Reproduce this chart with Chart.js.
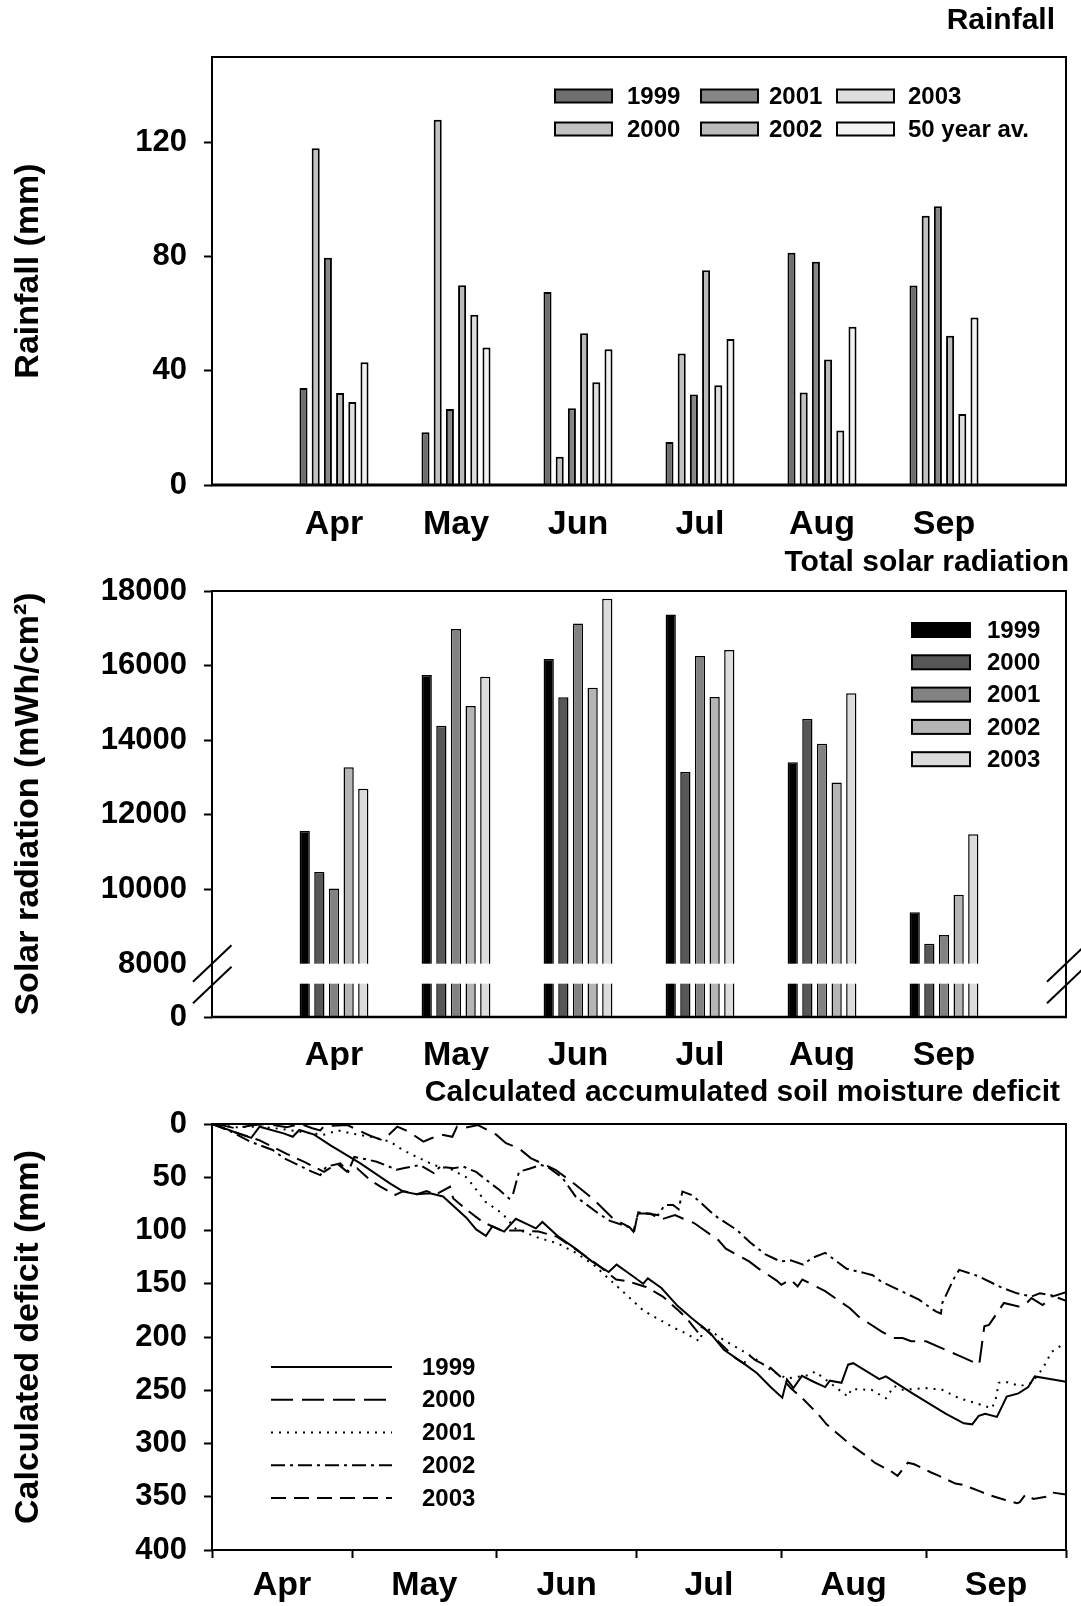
<!DOCTYPE html>
<html>
<head>
<meta charset="utf-8">
<title>Rainfall, solar radiation and soil moisture deficit</title>
<script src="https://cdn.jsdelivr.net/npm/chart.js@4.4.1/dist/chart.umd.min.js"></script>
<style>
  body { margin: 0; background: #fff; }
  #wrap { position: relative; width: 1081px; height: 1606px; }
  canvas { position: absolute; left: 0; }
</style>
</head>
<body>
<div id="wrap">
  <canvas id="rain" width="1081" height="545" style="top:0"></canvas>
  <canvas id="solar" width="1081" height="525" style="top:545px"></canvas>
  <canvas id="deficit" width="1081" height="536" style="top:1070px"></canvas>
</div>
<script>
// ---- data ----
const months    = ['Apr', 'May', 'Jun', 'Jul', 'Aug', 'Sep'];
const monthDays = [30, 31, 30, 31, 31, 30];

// Rainfall (mm), one value per month
const rainLabels = ['1999', '2000', '2001', '2002', '2003', '50 year av.'];
const rain1999 = [34, 18.5, 67.6, 15.1, 81.4, 69.9];
const rain2000 = [118, 128, 9.9, 46.1, 32.4, 94.4];
const rain2001 = [79.6, 26.6, 26.9, 31.7, 78.2, 97.7];
const rain2002 = [32.2, 70, 53.2, 75.3, 44, 52.3];
const rain2003 = [29.1, 59.7, 36, 35, 19.1, 24.9];
const rainAvg  = [43, 48.2, 47.6, 51.2, 55.5, 58.7];
const rainTicks = [0, 40, 80, 120];

// Total solar radiation (mWh/cm2), one value per month
const solarLabels = ['1999', '2000', '2001', '2002', '2003'];
const solar1999 = [11570, 15750, 16180, 17370, 13410, 9390];
const solar2000 = [10470, 14390, 15150, 13150, 14570, 8550];
const solar2001 = [10030, 16980, 17130, 16260, 13910, 8780];
const solar2002 = [13280, 14920, 15410, 15160, 12870, 9860];
const solar2003 = [12700, 15700, 17790, 16420, 15260, 11480];
const solarTicks = [8000, 10000, 12000, 14000, 16000, 18000];

// Calculated accumulated soil moisture deficit: [day from 1 Apr, mm]
const deficitLabels = ['1999', '2000', '2001', '2002', '2003'];
const deficit1999 = [[0,0],[8.4,13],[10.2,2.5],[15.5,9],[17.3,12],[18.7,5.6],[21.9,10],[25.4,20],[31.8,37],[38.2,56],[41,63.5],[43.9,66],[46.7,65],[49.5,68],[54.5,88],[56.6,99],[58.7,105],[60.1,96],[62.6,101],[65.1,89],[69.4,98],[70.8,92],[74.3,106],[77.9,117],[81.4,129],[85,139],[86.7,132],[89.9,142],[92.4,150],[93.4,145],[96.3,154],[99.8,171],[102.7,182],[106.9,197],[109.7,212],[114,225],[116.8,234],[119.7,247],[122.2,257],[123.2,240],[124.6,248],[126.4,236.5],[128.9,242],[131.4,247],[132.4,241],[134.9,243],[136.3,226],[137.4,224.6],[140.2,232],[143,239.6],[144.4,237],[150.1,253],[157.2,272],[161.1,281],[162.9,282],[164.3,274],[165.7,272],[168.2,275],[170.3,256],[172.8,253],[174.9,247],[176.3,237],[180.2,240],[183,242]];
const deficit2000 = [[0,0],[3,2],[5,4],[9,1],[12,0],[16,3],[19,0],[21.5,4],[23.2,6],[24,2],[29,1],[33.9,11],[36.4,15],[37.9,10],[39.7,2.5],[42.1,7],[45.3,16.6],[47,13.4],[49.2,10],[51.5,12],[52.5,2.5],[53.8,4],[57,1],[60.9,10],[63,18],[65.8,23],[68.3,32],[73.6,43],[77.9,57],[81.8,71],[86,89],[89.5,97],[90.3,101],[91.3,84],[94,84],[96,90],[99.2,85.5],[101,89],[103.3,93],[108.5,109],[110.1,117],[115.1,129],[117.2,136],[121,147],[122,151],[124,146],[125.5,152.6],[126.5,146],[131.4,157],[136.7,173],[138.6,181],[143.5,195],[146,201],[148,201],[149.8,204],[153,204],[158.2,214],[160.3,218],[164.4,226],[165.5,190],[166.5,188.6],[169.7,168],[172.8,171.4],[174.2,169.8],[175.6,163.5],[178,170],[180,162],[183,158]];
const deficit2001 = [[0,0],[5,3],[10.7,2.5],[16.4,5.6],[20,8],[24,10],[27,6],[30,9],[34,12],[38.2,16.6],[40.7,24],[43.9,31],[47.8,39],[51,42],[54.5,50],[56,58],[58.6,73],[62.2,84],[65,98],[70,107],[74,112],[78,121],[82,133],[85.7,148],[89.2,162],[92.4,175],[98.8,191],[101.3,196],[104.5,204],[105.5,190],[109.7,203],[113.3,212],[117,222],[120,232],[123.2,239],[128.2,235.6],[129.2,232.4],[132.4,243],[136.3,256],[137,249],[141.3,249.6],[144.4,257.5],[146.2,246],[148,249.6],[153,248],[156.5,249.6],[160.1,257.5],[163.6,262],[167.1,267],[167.9,259],[168.6,243],[170,242],[173.2,246],[175.7,243],[178.1,229],[179.9,214],[183,205]];
const deficit2002 = [[0,0],[4,7],[8.2,16.6],[13,24.4],[15.4,32],[21.4,44.7],[23.2,48],[24.5,40],[27.5,37],[29.2,44.7],[30.5,31],[33.9,34],[35.3,35.4],[39.6,43],[41,41.6],[44.6,38.5],[47.5,46],[48.9,40],[51.7,41.6],[53.8,40],[56.6,45],[60.1,57],[61.6,62],[63.7,70],[64.5,66],[65.8,44.7],[68,42],[70.4,38.5],[71.8,40],[75,50],[77.9,68],[82.8,84],[85.3,91],[89.5,97],[90.5,100],[91.3,83],[93,84],[95.6,85.5],[97,76],[98.8,76],[100,80],[100.8,63.5],[102.7,66.6],[104.1,71.3],[107.6,85.5],[112.5,99.6],[115.4,111.5],[118.6,122.5],[121.8,129],[124,128],[126.7,132],[128.5,126],[131.4,121],[136,136],[139.9,140],[141.6,142],[143.4,148],[147.3,156],[151.5,165],[155.1,176],[156.2,178],[156.5,168],[159,145],[160.1,137],[164.3,143],[168.9,153],[172.5,159],[175.6,162],[177.4,159],[180,161],[183,166]];
const deficit2003 = [[0,0],[5,8],[10,15],[16,28],[20,36],[24,45],[26.8,37],[28.9,44.7],[31.1,41.6],[33.9,52.6],[36.1,58.8],[39.3,66.6],[41,63],[43.9,66],[46,63],[48,66],[51,59],[51.7,70],[55,82],[58,92],[62,100],[66,100],[70,101],[74,106],[78,118],[82,130],[86.6,146],[89.4,148],[90.8,150],[93,153],[96.6,162],[100.2,176],[101.8,183],[104.4,197],[105,190],[108,202],[112.2,220],[114,225],[115.1,217],[116.5,222],[119.7,229],[122,238],[124,248],[126.4,257],[129.9,272.5],[131.7,282],[134.9,294],[136.7,300.6],[140.2,311.6],[142,318],[145.5,326],[146.9,330.4],[149.1,318],[150.5,319.5],[154,327],[155.8,330.4],[159.3,337.6],[161.1,339],[164.6,345],[166,347.6],[170,353],[172.5,356],[173.1,355],[174.3,348],[176,352],[178.7,350],[180,346],[183,348]];
const deficitTicks = [0, 50, 100, 150, 200, 250, 300, 350, 400];

// ---- shared helpers ----
const FONT = "'Liberation Sans', Arial, sans-serif";
const bold = size => `bold ${size}px ${FONT}`;
Chart.defaults.font.family = FONT;
Chart.defaults.font.weight = 'bold';
Chart.defaults.color = '#000';

const AXIS_W = 212;
const CLEAR = 'rgba(0,0,0,0)';

function drawFrame(chart, bottomWidth) {
  const { ctx, chartArea: a } = chart;
  ctx.save();
  ctx.strokeStyle = '#000';
  ctx.lineWidth = 2;
  ctx.strokeRect(a.left, a.top, a.right - a.left, a.bottom - a.top);
  ctx.lineWidth = bottomWidth;
  ctx.beginPath();
  ctx.moveTo(a.left - 1, a.bottom);
  ctx.lineTo(a.right + 1, a.bottom);
  ctx.stroke();
  ctx.restore();
}

function drawTitle(chart, text, right, y) {
  const ctx = chart.ctx;
  ctx.save();
  ctx.font = bold(30);
  ctx.fillStyle = '#000';
  ctx.textAlign = 'right';
  ctx.textBaseline = 'middle';
  ctx.fillText(text, right, y);
  ctx.restore();
}

function drawBarLegend(chart, spots, lw) {
  const ctx = chart.ctx;
  ctx.save();
  ctx.font = bold(24);
  ctx.textBaseline = 'middle';
  chart.data.datasets.forEach((ds, i) => {
    const s = spots[i];
    ctx.fillStyle = ds.backgroundColor;
    ctx.fillRect(s.x, s.y - s.h / 2, s.w, s.h);
    ctx.strokeStyle = '#000';
    ctx.lineWidth = lw;
    ctx.strokeRect(s.x, s.y - s.h / 2, s.w, s.h);
    ctx.fillStyle = '#000';
    ctx.fillText(ds.label, s.tx, s.y + 1);
  });
  ctx.restore();
}

function yAxis(title, tickValues, extra) {
  return Object.assign({
    afterFit: s => { s.width = AXIS_W; },
    afterBuildTicks: s => { s.ticks = tickValues.map(v => ({ value: v })); },
    ticks: { font: { size: 31, weight: 'bold' }, padding: 17, color: '#000' },
    grid: { drawOnChartArea: false, tickLength: 8, tickWidth: 2, tickColor: '#000' },
    border: { display: false },
    title: { display: true, text: title, color: '#000',
             font: { size: 34, weight: 'bold' }, padding: { top: 8, bottom: 0 } }
  }, extra);
}

function monthAxis(height, pad) {
  return {
    type: 'linear', min: 0, max: months.length + 1, offset: false,
    afterBuildTicks: s => { s.ticks = months.map((m, i) => ({ value: i + 1 })); },
    afterFit: s => { s.height = height; },
    ticks: { callback: v => months[v - 1], font: { size: 34, weight: 'bold' }, padding: pad,
             maxRotation: 0, autoSkip: false, color: '#000' },
    grid: { drawOnChartArea: false, offset: false, tickLength: 8, tickColor: CLEAR },
    border: { display: false }
  };
}

const byMonth = vals => months.map((m, i) => ({ x: i + 1, y: vals[i] }));
const common = { responsive: false, animation: false, devicePixelRatio: 1,
                 events: [] };

// ---- Rainfall ----
const rainSeries = [rain1999, rain2000, rain2001, rain2002, rain2003, rainAvg];
const rainFills  = ['#6e6e6e', '#c2c2c2', '#868686', '#bababa', '#dedede', '#f2f2f2'];

new Chart(document.getElementById('rain'), {
  type: 'bar',
  data: {
    datasets: rainSeries.map((vals, i) => ({
      label: rainLabels[i], data: byMonth(vals),
      backgroundColor: rainFills[i], borderColor: '#000', borderWidth: 2
    }))
  },
  options: {
    ...common,
    layout: { padding: { left: 0, right: 15, top: 57, bottom: 0 } },
    datasets: { bar: { categoryPercentage: 0.6, barPercentage: 0.66 } },
    plugins: { legend: { display: false }, tooltip: { enabled: false } },
    scales: {
      x: monthAxis(60, 11),
      y: yAxis('Rainfall (mm)', rainTicks, { min: 0, max: 150 })
    }
  },
  plugins: [{
    id: 'rainDecor',
    afterDatasetsDraw: c => drawFrame(c, 3),
    afterDraw: c => {
      drawTitle(c, 'Rainfall', 1055, 21);
      const cols = [[555, 627], [701, 769], [837, 908]];
      const rows = [96, 129];
      const spots = rainLabels.map((l, i) => ({
        x: cols[Math.floor(i / 2)][0], tx: cols[Math.floor(i / 2)][1],
        y: rows[i % 2], w: 57, h: 13
      }));
      drawBarLegend(c, spots, 2);
    }
  }]
});

// ---- Total solar radiation (broken axis) ----
const SOLAR_FLOOR = 6585;   // value drawn at the "0" line below the break
const solarSeries = [solar1999, solar2000, solar2001, solar2002, solar2003];
const solarFills  = ['#000000', '#575757', '#828282', '#b5b5b5', '#dcdcdc'];

new Chart(document.getElementById('solar'), {
  type: 'bar',
  data: {
    datasets: solarSeries.map((vals, i) => ({
      label: solarLabels[i], data: byMonth(vals),
      backgroundColor: solarFills[i], borderColor: '#000', borderWidth: 1.5
    }))
  },
  options: {
    ...common,
    layout: { padding: { left: 0, right: 15, top: 46, bottom: 0 } },
    datasets: { bar: { categoryPercentage: 0.6, barPercentage: 0.7 } },
    plugins: { legend: { display: false }, tooltip: { enabled: false } },
    scales: {
      x: monthAxis(53, 10),
      y: yAxis('Solar radiation (mWh/cm\u00B2)', [SOLAR_FLOOR].concat(solarTicks), {
        min: SOLAR_FLOOR, max: solarTicks[solarTicks.length - 1],
        ticks: { font: { size: 31, weight: 'bold' }, padding: 17, color: '#000',
                 callback: v => (v === SOLAR_FLOOR ? '0' : v) },
        grid: { drawOnChartArea: false, tickLength: 8, tickWidth: 2,
                tickColor: c => (c.tick && c.tick.value === solarTicks[0] ? CLEAR : '#000') }
      })
    }
  },
  plugins: [{
    id: 'solarDecor',
    afterDatasetsDraw: c => {
      const { ctx, chartArea: a, scales: { y } } = c;
      const yb = y.getPixelForValue(solarTicks[0]);
      ctx.save();
      ctx.fillStyle = '#fff';
      ctx.fillRect(a.left + 1, yb - 0.5, a.right - a.left - 2, 20);
      ctx.restore();
      drawFrame(c, 2.5);
      ctx.save();
      ctx.strokeStyle = '#000';
      ctx.lineWidth = 2;
      [a.left, a.right].forEach(xc => {
        [0, 21.5].forEach(dy => {
          ctx.beginPath();
          ctx.moveTo(xc - 19, yb + 17.5 + dy);
          ctx.lineTo(xc + 19.5, yb - 19 + dy);
          ctx.stroke();
        });
      });
      ctx.restore();
    },
    afterDraw: c => {
      drawTitle(c, 'Total solar radiation', 1069, 17.5);
      const spots = solarLabels.map((l, i) => ({ x: 912, tx: 987, y: 85 + i * 32.3, w: 58, h: 14 }));
      drawBarLegend(c, spots, 2);
    }
  }]
});

// ---- Calculated accumulated soil moisture deficit ----
const bounds  = monthDays.reduce((acc, d) => { acc.push(acc[acc.length - 1] + d); return acc; }, [0]);
const centers = months.map((m, i) => (bounds[i] + bounds[i + 1]) / 2);
const deficitSeries = [deficit1999, deficit2000, deficit2001, deficit2002, deficit2003];
const deficitDash   = [[], [22, 9], [2, 6], [14, 5, 3, 5], [15, 8]];

new Chart(document.getElementById('deficit'), {
  type: 'line',
  data: {
    datasets: deficitSeries.map((pts, i) => ({
      label: deficitLabels[i], data: pts,
      borderColor: '#000', borderWidth: 2, borderDash: deficitDash[i],
      pointRadius: 0, tension: 0, fill: false
    }))
  },
  options: {
    ...common,
    layout: { padding: { left: 0, right: 15, top: 54, bottom: 0 } },
    plugins: { legend: { display: false }, tooltip: { enabled: false } },
    scales: {
      x: {
        type: 'linear', min: 0, max: bounds[bounds.length - 1],
        afterBuildTicks: s => {
          s.ticks = bounds.concat(centers).sort((p, q) => p - q).map(v => ({ value: v }));
        },
        afterFit: s => { s.height = 56; },
        ticks: { autoSkip: false, maxRotation: 0, padding: 7, color: '#000',
                 font: { size: 34, weight: 'bold' },
                 callback: v => { const k = centers.indexOf(v); return k >= 0 ? months[k] : ''; } },
        grid: { drawOnChartArea: false, tickLength: 8, tickWidth: 2,
                tickColor: c => (c.tick && centers.includes(c.tick.value) ? CLEAR : '#000') },
        border: { display: false }
      },
      y: yAxis('Calculated deficit (mm)', deficitTicks, { min: 0, max: 400, reverse: true })
    }
  },
  plugins: [{
    id: 'deficitDecor',
    afterDatasetsDraw: c => drawFrame(c, 2),
    afterDraw: c => {
      drawTitle(c, 'Calculated accumulated soil moisture deficit', 1060, 23);
      const ctx = c.ctx;
      ctx.save();
      ctx.font = bold(24);
      ctx.textBaseline = 'middle';
      c.data.datasets.forEach((ds, i) => {
        const y = 297 + i * 32.75;
        ctx.strokeStyle = '#000';
        ctx.lineWidth = ds.borderWidth;
        ctx.setLineDash(ds.borderDash);
        ctx.beginPath();
        ctx.moveTo(271, y);
        ctx.lineTo(392, y);
        ctx.stroke();
        ctx.setLineDash([]);
        ctx.fillStyle = '#000';
        ctx.fillText(ds.label, 422, y + 1);
      });
      ctx.restore();
    }
  }]
});
</script>
</body>
</html>
